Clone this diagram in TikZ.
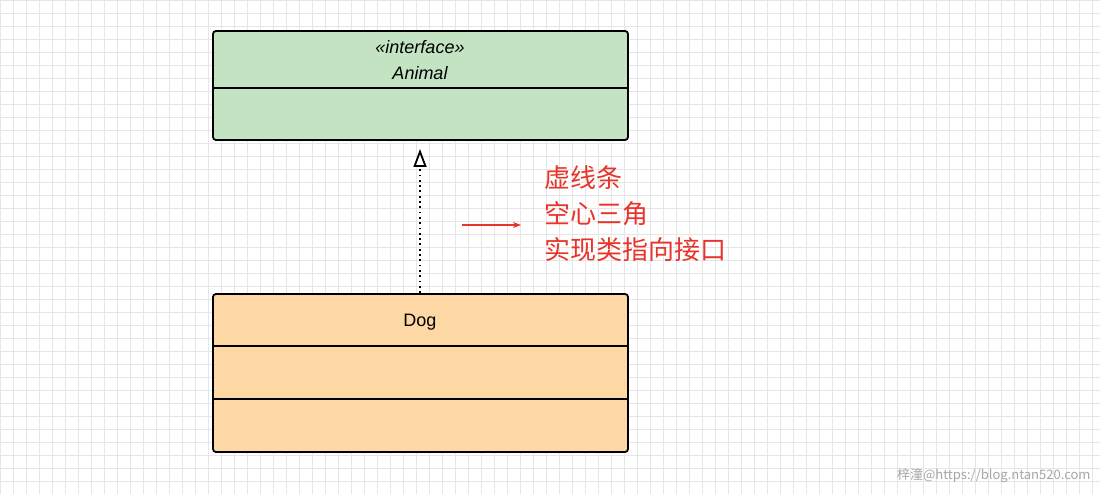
\documentclass[tikz,border=0pt]{standalone}
\usepackage{fontspec}
\setmainfont{Liberation Sans}
\newfontfamily\cjk{Noto Sans CJK SC}
\usetikzlibrary{arrows.meta}
\definecolor{gfill}{HTML}{C3E3C3}
\definecolor{ofill}{HTML}{FDD8A5}
\definecolor{gridc}{HTML}{E6E6E6}
\definecolor{redc}{HTML}{E8342A}
\tikzset{umlbox/.style={draw=black,line width=1.8pt,rounded corners=3pt},
 sep/.style={draw=black,line width=1.5pt},
 lbl/.style={font=\fontsize{18}{21}\selectfont}}
\begin{document}
\begin{tikzpicture}[x=1pt,y=-1pt]
\useasboundingbox (0,0) rectangle (1100,494);
\fill[white] (0,0) rectangle (1100,494);
\foreach \i in {0,...,85} {\draw[gridc,line width=0.7pt] (\i*13,0) -- (\i*13,494);}
\foreach \j in {0,...,38} {\draw[gridc,line width=0.7pt] (0,\j*13) -- (1100,\j*13);}
\draw[umlbox,fill=gfill] (213,31) rectangle (628,140);
\draw[sep] (213,88) -- (628,88);
\node[font=\fontsize{18}{21}\selectfont\itshape] (st) at (420,47) {\textless\textless interface\textgreater\textgreater};
\node[font=\fontsize{18}{21}\selectfont\itshape] (an) at (420,73) {Animal};
\draw[umlbox,fill=ofill] (213,294) rectangle (628,452);
\draw[sep] (213,346) -- (628,346);
\draw[sep] (213,399) -- (628,399);
\node[lbl] (dog) at (420,322) {Dog};
\coordinate (ds) at (420,293);
\coordinate (dt) at (420,149);
\draw[line width=1.8pt,dash pattern=on 1.8pt off 3.5pt,-{Triangle[open,length=18pt,width=13pt,line width=1.8pt]}] (ds) -- (dt);
\coordinate (ra) at (462,225);
\coordinate (rb) at (521,225);
\draw[redc,line width=1.8pt,-{Stealth[length=8pt]}] (ra) -- (rb);
\node[anchor=north west,text=redc,align=left,font=\cjk\fontsize{26}{36}\selectfont] (note) at (541,162) {虚线条\\空心三角\\实现类指向接口};
\node[anchor=east,text=gray!70,font=\cjk\fontsize{13}{15}\selectfont] (wm) at (1094,476) {梓潼@https://blog.ntan520.com};
\end{tikzpicture}
\end{document}
